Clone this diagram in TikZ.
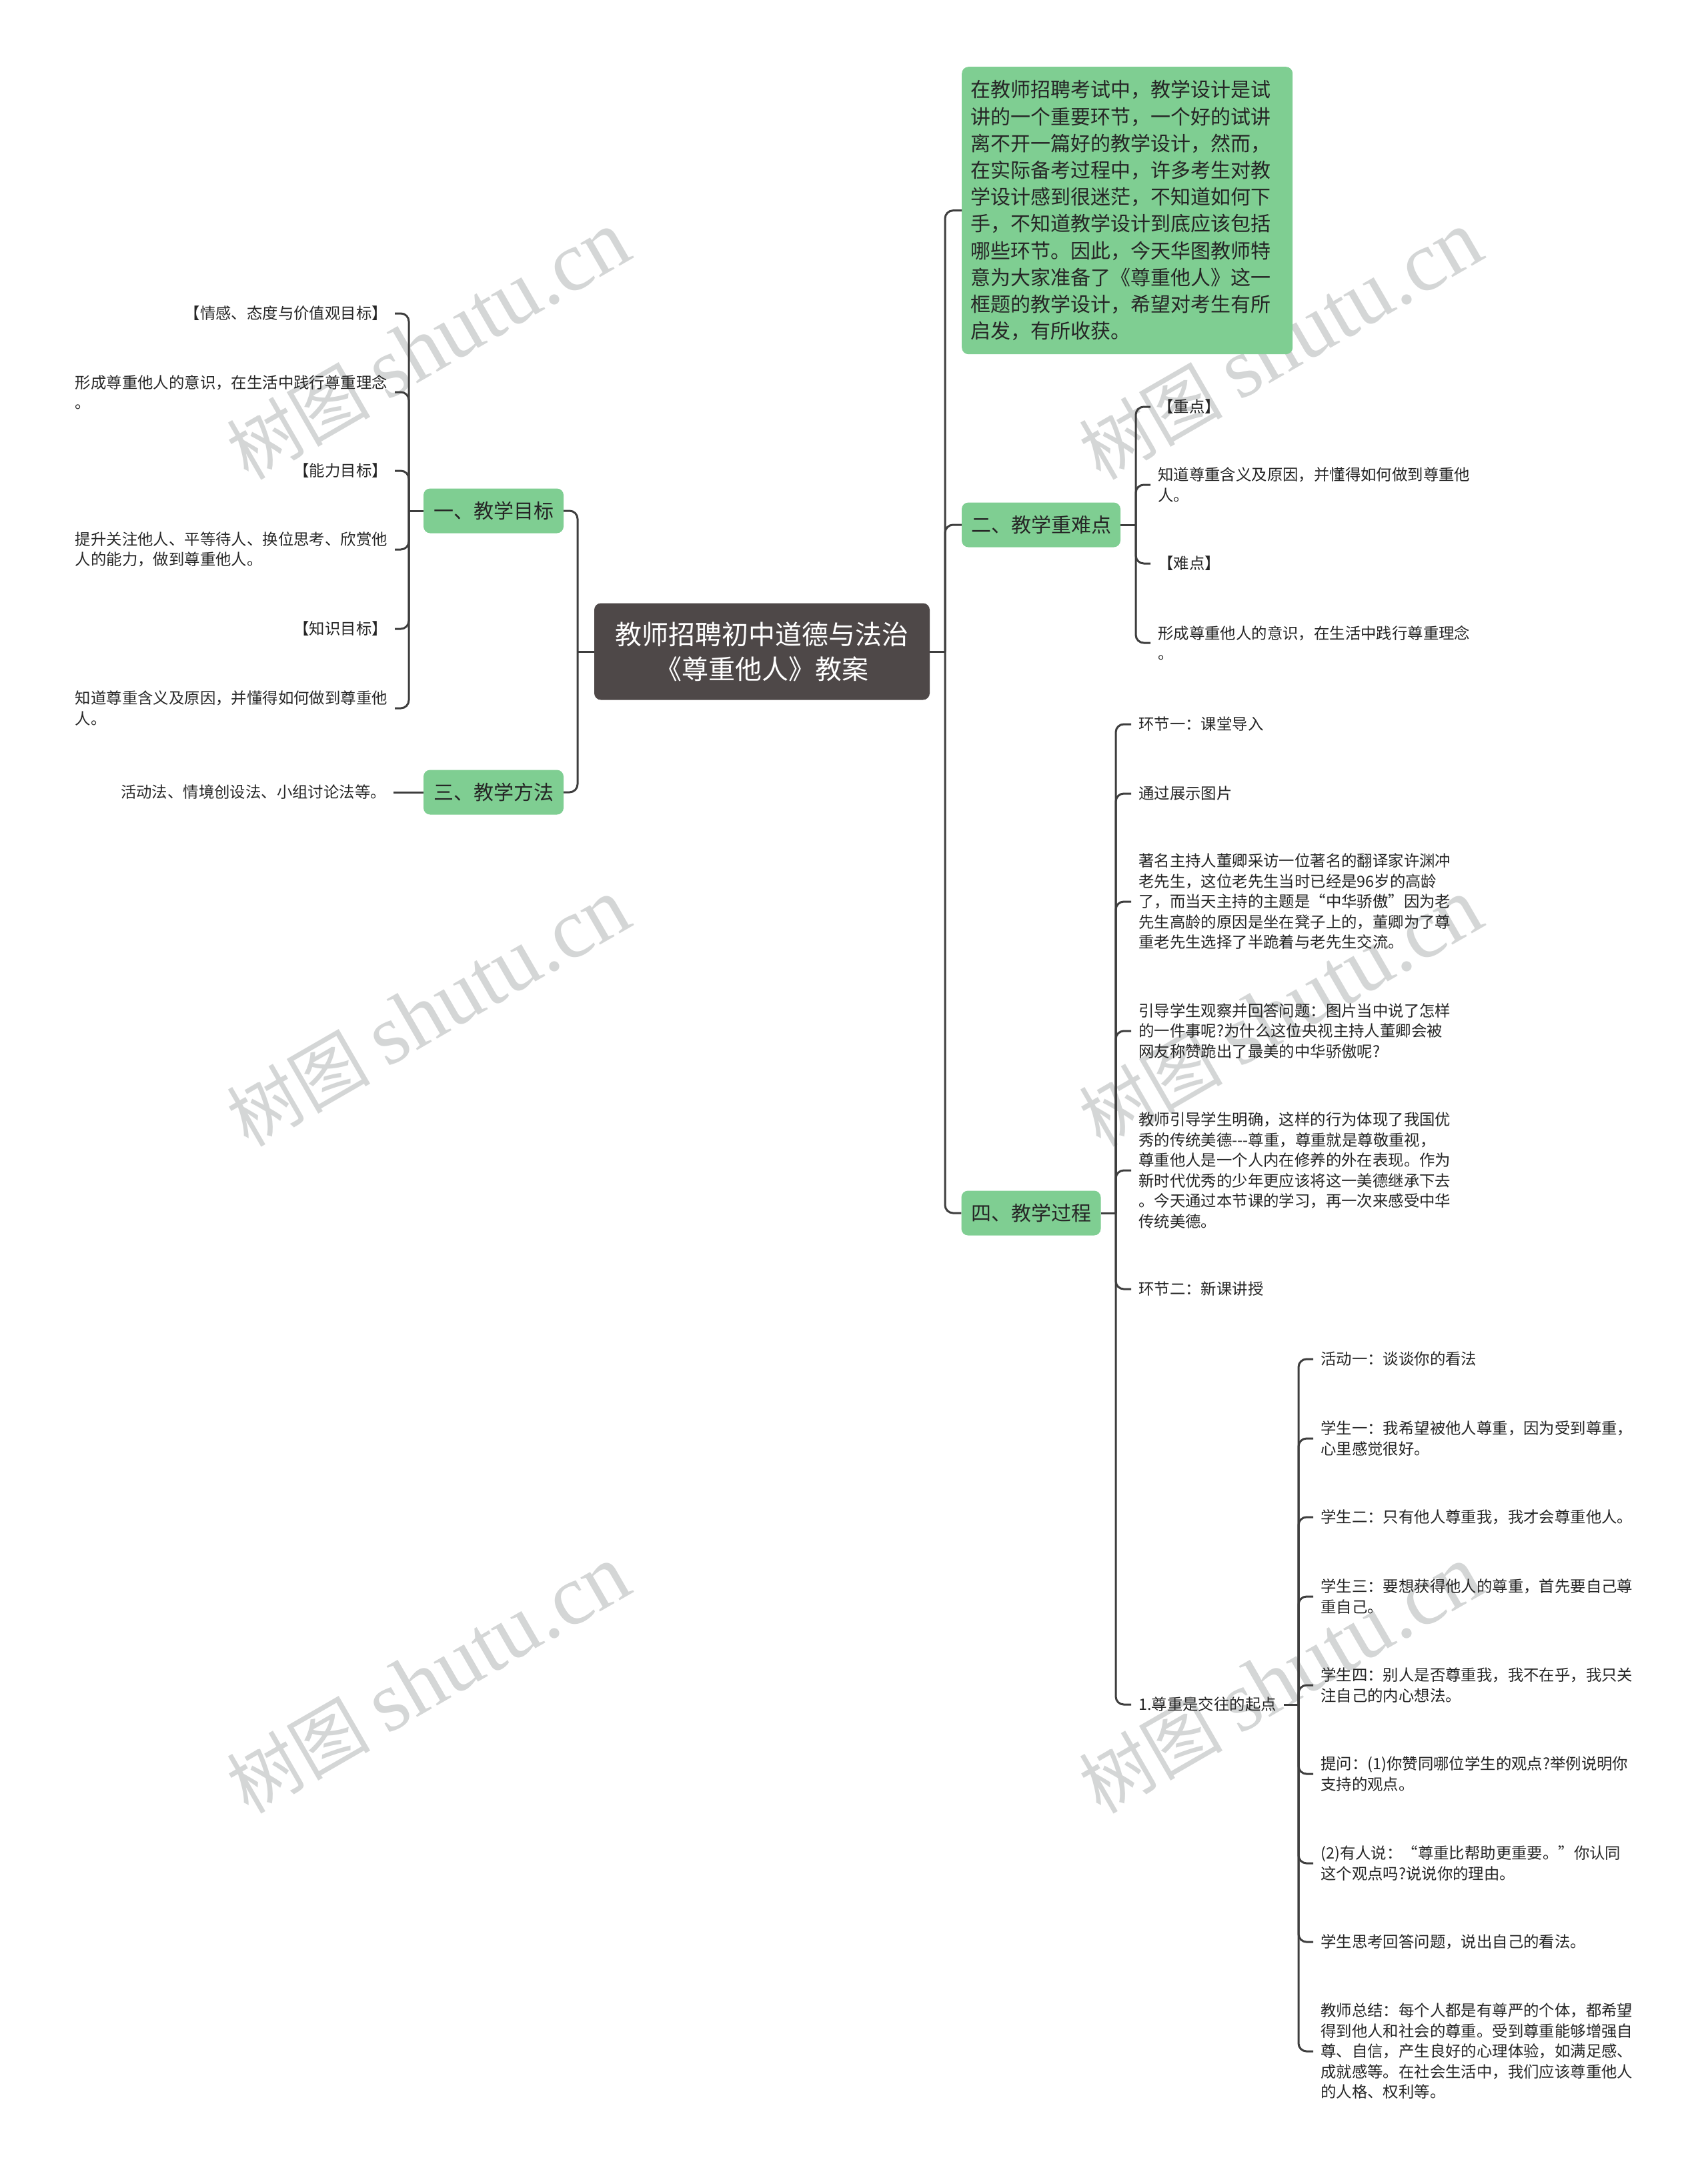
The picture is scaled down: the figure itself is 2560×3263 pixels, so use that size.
\documentclass[tikz,border=0pt]{standalone}
\usepackage{fontspec}
\setmainfont{Noto Sans CJK SC}
\newfontfamily\wmlatin{Liberation Serif}
\newfontfamily\wmcjk{Noto Sans CJK SC}
\definecolor{gbox}{RGB}{127,206,146}
\definecolor{cbox}{RGB}{78,72,72}
\definecolor{linec}{RGB}{62,62,62}
\definecolor{txt}{RGB}{38,38,38}
\definecolor{wmc}{RGB}{212,214,214}
\newcommand\zlq{\makebox[1em][r]{“}}
\newcommand\zrq{\makebox[1em][l]{”}}
\tikzset{
  leaf/.style={font=\fontsize{23.4}{30.5}\selectfont, text=txt, inner xsep=11pt, inner ysep=0pt, align=left},
  leafL/.style={leaf, anchor=east},
  leafR/.style={leaf, anchor=west},
  branch/.style={fill=gbox, rounded corners=10pt, font=\fontsize{30}{36}\selectfont, text=txt, minimum height=67pt, inner xsep=0pt, inner ysep=0pt},
  intro/.style={fill=gbox, rounded corners=10pt, font=\fontsize{30}{40.2}\selectfont, text=txt, text width=470pt, inner xsep=13pt, inner ysep=0pt, minimum height=431pt, align=left},
  central/.style={fill=cbox, rounded corners=10pt, font=\fontsize{40}{52}\selectfont, text=white, minimum width=503pt, minimum height=145pt, align=center, inner sep=0pt},
  conn/.style={draw=linec, line width=3pt, rounded corners=12pt},
  wmark/.style={text=wmc, rotate=30, inner sep=0pt}
}
\begin{document}
\begin{tikzpicture}[x=1pt,y=-1pt]
\fill[white] (0,0) rectangle (2560,3263);
\path[use as bounding box] (0,0) rectangle (2560,3263);

% watermarks
\foreach \x/\y [count=\k] in {642/518, 642/1518, 642/2518, 1920/518, 1920/1518, 1920/2518}
  \node[wmark] (wm\k) at (\x,\y) {{\wmcjk\fontsize{108}{108}\selectfont 树图}\hspace{24pt}{\wmlatin\fontsize{128}{128}\selectfont shutu.cn}};

% central
\node[central] (c) at (1142.5,977) {教师招聘初中道德与法治\\《尊重他人》教案};

% left branches
\node[branch, minimum width=210pt] (b1) at (740,766) {一、教学目标};
\node[branch, minimum width=210pt] (b3) at (740,1188) {三、教学方法};

\node[leafL] (a1) at (592,470) {【情感、态度与价值观目标】};
\node[leafL] (a2) at (592,588) {形成尊重他人的意识，在生活中践行尊重理念\\。};
\node[leafL] (a3) at (592,706) {【能力目标】};
\node[leafL] (a4) at (592,824) {提升关注他人、平等待人、换位思考、欣赏他\\人的能力，做到尊重他人。};
\node[leafL] (a5) at (592,943) {【知识目标】};
\node[leafL] (a6) at (592,1062) {知道尊重含义及原因，并懂得如何做到尊重他\\人。};
\node[leafL] (m1) at (590,1188) {活动法、情境创设法、小组讨论法等。};

% right branches
\node[intro, anchor=north west] (i) at (1442,100) {在教师招聘考试中，教学设计是试\\讲的一个重要环节，一个好的试讲\\离不开一篇好的教学设计，然而，\\在实际备考过程中，许多考生对教\\学设计感到很迷茫，不知道如何下\\手，不知道教学设计到底应该包括\\哪些环节。因此，今天华图教师特\\意为大家准备了《尊重他人》这一\\框题的教学设计，希望对考生有所\\启发，有所收获。};
\node[branch, minimum width=238pt] (b2) at (1561,787) {二、教学重难点};
\node[branch, minimum width=209pt] (b4) at (1546,1819) {四、教学过程};

\node[leafR] (r1) at (1725,610) {【重点】};
\node[leafR] (r2) at (1725,727) {知道尊重含义及原因，并懂得如何做到尊重他\\人。};
\node[leafR] (r3) at (1725,845) {【难点】};
\node[leafR] (r4) at (1725,964) {形成尊重他人的意识，在生活中践行尊重理念\\。};

\node[leafR] (s1) at (1696,1086) {环节一：课堂导入};
\node[leafR] (s2) at (1696,1190) {通过展示图片};
\node[leafR] (s3) at (1696,1352) {著名主持人董卿采访一位著名的翻译家许渊冲\\老先生，这位老先生当时已经是96岁的高龄\\了，而当天主持的主题是\zlq 中华骄傲\zrq 因为老\\先生高龄的原因是坐在凳子上的，董卿为了尊\\重老先生选择了半跪着与老先生交流。};
\node[leafR] (s4) at (1696,1546) {引导学生观察并回答问题：图片当中说了怎样\\的一件事呢?为什么这位央视主持人董卿会被\\网友称赞跪出了最美的中华骄傲呢?};
\node[leafR] (s5) at (1696,1755) {教师引导学生明确，这样的行为体现了我国优\\秀的传统美德-\kern0pt-\kern0pt-尊重，尊重就是尊敬重视，\\尊重他人是一个人内在修养的外在表现。作为\\新时代优秀的少年更应该将这一美德继承下去\\。今天通过本节课的学习，再一次来感受中华\\传统美德。};
\node[leafR] (s6) at (1696,1933) {环节二：新课讲授};
\node[leafR] (s7) at (1696,2556) {1.尊重是交往的起点};

\node[leafR] (t1) at (1969,2038) {活动一：谈谈你的看法};
\node[leafR] (t2) at (1969,2157) {学生一：我希望被他人尊重，因为受到尊重，\\心里感觉很好。};
\node[leafR] (t3) at (1969,2275) {学生二：只有他人尊重我，我才会尊重他人。};
\node[leafR] (t4) at (1969,2394) {学生三：要想获得他人的尊重，首先要自己尊\\重自己。};
\node[leafR] (t5) at (1969,2527) {学生四：别人是否尊重我，我不在乎，我只关\\注自己的内心想法。};
\node[leafR] (t6) at (1969,2660) {提问：(1)你赞同哪位学生的观点?举例说明你\\支持的观点。};
\node[leafR] (t7) at (1969,2794) {(2)有人说：\zlq 尊重比帮助更重要。\zrq 你认同\\这个观点吗?说说你的理由。};
\node[leafR] (t8) at (1969,2912) {学生思考回答问题，说出自己的看法。};
\node[leafR] (t9) at (1969,3076) {教师总结：每个人都是有尊严的个体，都希望\\得到他人和社会的尊重。受到尊重能够增强自\\尊、自信，产生良好的心理体验，如满足感、\\成就感等。在社会生活中，我们应该尊重他人\\的人格、权利等。};

% junctions
\coordinate (jL) at (866,977);
\coordinate (jR) at (1417,977);
\coordinate (j1) at (613,766);
\coordinate (j2) at (1703,787);
\coordinate (j4) at (1673,1819);
\coordinate (j7) at (1947,2556);

% connectors
\draw[conn] (c.west) -- (jL);
\draw[conn] (jL) |- (b1.east);
\draw[conn] (jL) |- (b3.east);
\draw[conn] (c.east) -- (jR);
\draw[conn] (jR) |- (i.west);
\draw[conn] (jR) |- (b2.west);
\draw[conn] (jR) |- (b4.west);

\draw[conn] (b1.west) -- (j1);
\foreach \n in {a1,a2,a3,a4,a5,a6} \draw[conn] (j1) |- (\n.east);
\draw[conn] (b3.west) -- (m1.east);

\draw[conn] (b2.east) -- (j2);
\foreach \n in {r1,r2,r3,r4} \draw[conn] (j2) |- (\n.west);

\draw[conn] (b4.east) -- (j4);
\foreach \n in {s1,s2,s3,s4,s5,s6,s7} \draw[conn] (j4) |- (\n.west);

\draw[conn] (s7.east) -- (j7);
\foreach \n in {t1,t2,t3,t4,t5,t6,t7,t8,t9} \draw[conn] (j7) |- (\n.west);
\end{tikzpicture}
\end{document}
